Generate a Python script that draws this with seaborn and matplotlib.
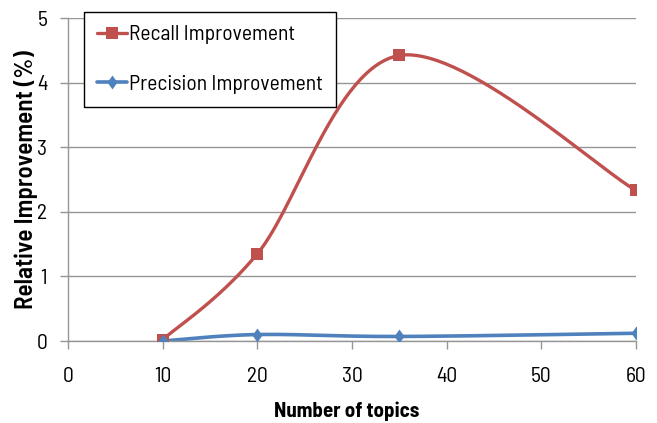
import numpy as np
import pandas as pd
import matplotlib
matplotlib.use("Agg")
import matplotlib.pyplot as plt
from matplotlib.lines import Line2D
import seaborn as sns

topics = [10, 20, 35, 60]
recall = [0.02, 1.35, 4.42, 2.33]
precision = [0.0, 0.10, 0.07, 0.12]
x_ticks = [0, 10, 20, 30, 40, 50, 60]
y_ticks = [0, 1, 2, 3, 4, 5]
series_names = ["Recall Improvement", "Precision Improvement"]

sns.set_theme(style="white")
plt.rcParams['font.family'] = ['Barlow Semi Condensed', 'Barlow Condensed', 'Saira SemiCondensed', 'DejaVu Sans']
plt.rcParams['text.color'] = 'black'
plt.rcParams['axes.labelcolor'] = 'black'
plt.rcParams['xtick.color'] = 'black'
plt.rcParams['ytick.color'] = 'black'


def smooth(xs, ys, n=60):
    # Excel-like smoothed line: cubic Bezier with Catmull-Rom control points
    xs = np.asarray(xs, float); ys = np.asarray(ys, float)
    P = np.column_stack([xs, ys])
    out = []
    for i in range(len(P) - 1):
        p0 = P[i - 1] if i > 0 else P[i]
        p1 = P[i]; p2 = P[i + 1]
        p3 = P[i + 2] if i + 2 < len(P) else P[i + 1]
        c1 = p1 + (p2 - p0) / 6.0
        c2 = p2 - (p3 - p1) / 6.0
        t = np.linspace(0, 1, n)[:, None]
        seg = ((1 - t) ** 3) * p1 + 3 * ((1 - t) ** 2) * t * c1 + 3 * (1 - t) * t ** 2 * c2 + t ** 3 * p2
        out.append(seg if i == 0 else seg[1:])
    return np.vstack(out)

red = "#C0504D"
blue = "#4F81BD"
diamond = [(0, 1), (0.72, 0), (0, -1), (-0.72, 0), (0, 1)]

fig = plt.figure(figsize=(6.57, 4.23), dpi=100)
ax = fig.add_axes([68/657, 1 - 341/423, (636 - 68)/657, (341 - 18)/423])

rs = smooth(topics, recall)
ps = smooth(topics, precision)
sns.lineplot(x=rs[:, 0], y=rs[:, 1], ax=ax, color=red, lw=2.4, sort=False, estimator=None)
sns.lineplot(x=ps[:, 0], y=ps[:, 1], ax=ax, color=blue, lw=2.6, sort=False, estimator=None)
sns.scatterplot(x=topics, y=recall, ax=ax, color=red, marker="s", s=72, linewidth=0, zorder=5)
sns.scatterplot(x=topics, y=precision, ax=ax, color=blue, marker=diamond, s=100, linewidth=0, zorder=6)

ax.set_xlim(0, 60)
ax.set_ylim(0, 5)
ax.set_xticks(x_ticks)
ax.set_yticks(y_ticks)
ax.set_xticklabels([str(v) for v in x_ticks], fontsize=15.5)
ax.set_yticklabels([str(v) for v in y_ticks], fontsize=15.5)
ax.grid(axis="y", color="#969696", lw=1.0)
ax.set_axisbelow(True)
for s in ["top", "right"]:
    ax.spines[s].set_visible(False)
for s in ["left", "bottom"]:
    ax.spines[s].set_color("#969696")
    ax.spines[s].set_linewidth(1.0)
ax.tick_params(axis="x", which="both", direction="out", length=6, width=1, color="#969696",
               bottom=True, pad=13, labelcolor="black")
ax.tick_params(axis="y", which="both", direction="out", length=6, width=1, color="#969696",
               left=True, pad=9, labelcolor="black")
ax.set_xlabel("Number of topics", fontsize=15, fontweight="bold")
ax.set_ylabel("Relative Improvement (%)", fontsize=18, fontweight=600)
ax.xaxis.set_label_coords(0.49, (341 - 401) / 323)
ax.yaxis.set_label_coords((38 - 68) / 568, 0.50)

handles = [
    Line2D([], [], color=red, lw=2.4, marker="s", markersize=8.5, markeredgewidth=0),
    Line2D([], [], color=blue, lw=2.6, marker=diamond, markersize=10, markeredgewidth=0),
]
leg = fig.legend(handles, series_names, loc="upper left",
                 bbox_to_anchor=(84/657, 1 - 12/423), fontsize=15.5, frameon=True,
                 fancybox=False, edgecolor="black", handlelength=1.4, handletextpad=0.08,
                 labelspacing=1.4, borderpad=0.62, borderaxespad=0)
leg.get_frame().set_linewidth(1.0)
leg.get_frame().set_facecolor("white")
leg.get_frame().set_alpha(1)

fig.savefig("out.png", dpi=100)
